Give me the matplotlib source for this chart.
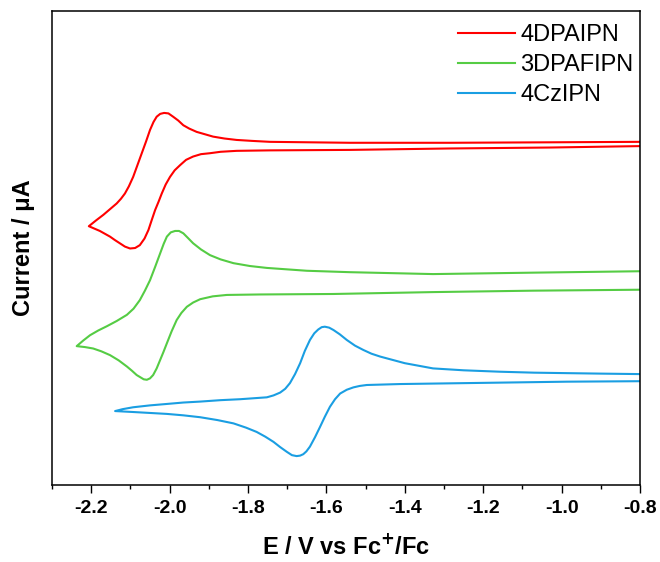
"""
Cyclic voltammograms of 4DPAIPN, 3DPAFIPN and 4CzIPN vs Fc+/Fc.
Writes out.png (660x562).
"""

import matplotlib
matplotlib.use("Agg")
import matplotlib.pyplot as plt

plt.rcParams.update({"font.family": ["Liberation Sans", "DejaVu Sans"]})

RED = "#FF0000"
GREEN = "#55CC44"
BLUE = "#1A9EE2"

LABELS = ["4DPAIPN", "3DPAFIPN", "4CzIPN"]

# each trace: cathodic sweep (-0.8 -> switch) then return sweep (switch -> -0.8)
# current in arbitrary units (no y scale shown in the figure)
E_4DPAIPN = [-0.800, -1.030, -1.285, -1.540, -1.744, -1.829, -1.870, -1.897,
             -1.920, -1.940, -1.958, -1.973, -1.987, -1.999, -2.010, -2.020,
             -2.028, -2.037, -2.046, -2.054, -2.064, -2.076, -2.088, -2.101,
             -2.114, -2.127, -2.140, -2.152, -2.165, -2.178, -2.192, -2.206,
             -2.188, -2.169, -2.152, -2.135, -2.124, -2.114, -2.104, -2.093,
             -2.082, -2.071, -2.060, -2.050, -2.041, -2.033, -2.024, -2.014,
             -2.003, -1.991, -1.978, -1.965, -1.950, -1.931, -1.910, -1.889,
             -1.860, -1.829, -1.790, -1.744, -1.540, -1.285, -1.030, -0.800]
I_4DPAIPN = [71.5, 71.2, 71.0, 70.7, 70.6, 70.5, 70.3, 70.0,
             69.8, 69.3, 68.6, 67.5, 66.4, 65.0, 63.4, 61.5,
             59.8, 58.0, 55.8, 53.8, 52.0, 50.6, 50.0, 49.9,
             50.3, 51.0, 51.7, 52.4, 53.0, 53.6, 54.1, 54.6,
             55.8, 57.0, 58.2, 59.4, 60.4, 61.5, 63.0, 65.0,
             67.5, 70.0, 72.5, 74.9, 76.6, 77.7, 78.3, 78.5,
             78.4, 77.7, 76.9, 75.9, 75.2, 74.5, 74.0, 73.5,
             73.1, 72.8, 72.6, 72.4, 72.2, 72.2, 72.3, 72.4]

E_3DPAFIPN = [-0.800, -1.073, -1.328, -1.583, -1.769, -1.854, -1.890, -1.922,
              -1.940, -1.956, -1.970, -1.982, -1.995, -2.007, -2.016, -2.024,
              -2.033, -2.042, -2.050, -2.058, -2.066, -2.084, -2.096, -2.109,
              -2.130, -2.152, -2.174, -2.195, -2.216, -2.237,
              -2.220, -2.203, -2.182, -2.160, -2.135, -2.109, -2.092, -2.076,
              -2.063, -2.050, -2.037, -2.024, -2.015, -2.007, -1.997, -1.986,
              -1.976, -1.965, -1.953, -1.940, -1.920, -1.897, -1.870, -1.837,
              -1.795, -1.752, -1.650, -1.540, -1.328, -1.073, -0.800]
I_3DPAFIPN = [41.2, 41.0, 40.7, 40.3, 40.2, 40.1, 39.8, 39.2,
              38.5, 37.6, 36.3, 34.8, 32.4, 29.9, 28.0, 26.4,
              24.6, 23.2, 22.5, 22.2, 22.3, 23.2, 24.1, 25.0,
              26.3, 27.4, 28.2, 28.8, 29.1, 29.3,
              30.5, 31.6, 32.6, 33.5, 34.6, 35.9, 37.2, 39.0,
              41.0, 43.2, 46.0, 48.9, 50.9, 52.4, 53.3, 53.6,
              53.6, 53.1, 52.1, 51.0, 49.7, 48.5, 47.6, 46.8,
              46.2, 45.8, 45.2, 44.9, 44.5, 44.8, 45.1]

E_4CzIPN = [-0.800, -0.986, -1.242, -1.412, -1.497, -1.515, -1.531, -1.548,
            -1.565, -1.578, -1.591, -1.604, -1.616, -1.629, -1.642, -1.651,
            -1.659, -1.667, -1.676, -1.688, -1.701, -1.718, -1.735, -1.756,
            -1.778, -1.805, -1.837, -1.878, -1.922, -1.965, -2.007, -2.050,
            -2.093, -2.116, -2.139,
            -2.120, -2.093, -2.050, -2.007, -1.965, -1.922, -1.870, -1.820,
            -1.752, -1.735, -1.718, -1.705, -1.693, -1.680, -1.667, -1.655,
            -1.642, -1.631, -1.621, -1.612, -1.604, -1.593, -1.582, -1.566,
            -1.548, -1.527, -1.506, -1.485, -1.463, -1.400, -1.328, -1.250,
            -1.157, -1.070, -0.986, -0.900, -0.800]
I_4CzIPN = [21.9, 21.8, 21.5, 21.3, 21.1, 20.9, 20.6, 20.1,
            19.3, 18.1, 16.5, 14.4, 12.3, 10.1, 8.1, 7.1,
            6.5, 6.2, 6.1, 6.3, 7.0, 8.0, 9.1, 10.2,
            11.2, 12.1, 13.0, 13.7, 14.3, 14.7, 15.0, 15.2,
            15.4, 15.5, 15.6,
            16.0, 16.4, 16.8, 17.1, 17.4, 17.6, 17.9, 18.1,
            18.5, 18.9, 19.5, 20.3, 21.5, 23.4, 25.7, 28.3,
            30.6, 32.0, 32.8, 33.3, 33.4, 33.2, 32.7, 31.8,
            30.6, 29.4, 28.5, 27.7, 27.1, 25.7, 24.6, 24.2,
            23.9, 23.7, 23.6, 23.5, 23.4]

X_TICKS = [-2.2, -2.0, -1.8, -1.6, -1.4, -1.2, -1.0, -0.8]


def main():
    fig = plt.figure(figsize=(6.6, 5.62), dpi=100)
    ax = fig.add_axes([0.0788, 0.137, 0.8909, 0.8434])

    traces = [(E_4DPAIPN, I_4DPAIPN, RED),
              (E_3DPAFIPN, I_3DPAFIPN, GREEN),
              (E_4CzIPN, I_4CzIPN, BLUE)]
    for (e, i, c), name in zip(traces, LABELS):
        ax.plot(e, i, color=c, lw=1.5, label=name, solid_joinstyle="round")

    ax.set_xlim(-2.3, -0.8)
    ax.set_ylim(0, 100)
    ax.set_xticks(X_TICKS)
    ax.set_xticklabels([f"{t:.1f}" for t in X_TICKS], fontsize=14,
                       fontweight="bold")
    ax.set_xticks([-2.3 + 0.1 * k for k in range(16)], minor=True)
    ax.tick_params(axis="x", which="major", direction="out", length=6,
                   width=1, pad=5)
    ax.tick_params(axis="x", which="minor", direction="out", length=3,
                   width=1)
    ax.set_yticks([])
    for s in ax.spines.values():
        s.set_linewidth(1.1)

    ax.set_xlabel("E / V vs Fc$^{\\mathbf{+}}$/Fc", fontsize=17,
                  fontweight="bold", labelpad=12)
    ax.set_ylabel("Current / \u03bcA", fontsize=17, fontweight="bold",
                  labelpad=12)

    ax.legend(loc="upper right", bbox_to_anchor=(1.012, 1.0), frameon=False,
              fontsize=17, handlelength=2.4, handletextpad=0.25,
              labelspacing=0.33, borderaxespad=0.27, borderpad=0.3)

    fig.savefig("out.png", dpi=100)
    plt.close(fig)


if __name__ == "__main__":
    main()
